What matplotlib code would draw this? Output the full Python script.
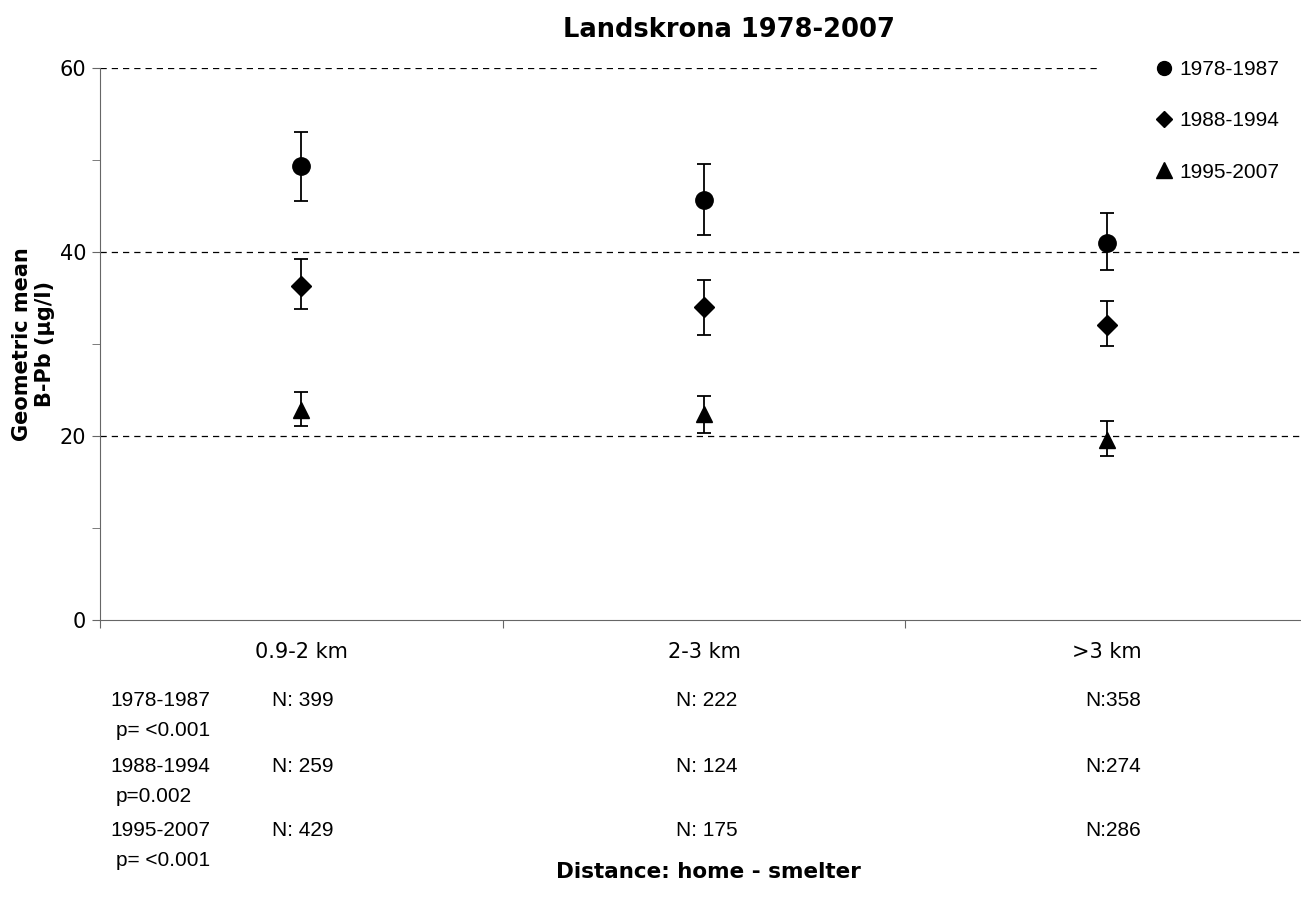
import matplotlib.pyplot as plt
from matplotlib.lines import Line2D
import numpy as np

# data
categories = ['0.9-2 km', '2-3 km', '>3 km']
periods = ['1978-1987', '1988-1994', '1995-2007']
p_values = ['p= <0.001', 'p=0.002', 'p= <0.001']
markers = ['o', 'D', '^']
marker_sizes = [12.5, 10, 12]

means = [
    [49.3, 45.6, 41.0],
    [36.3, 34.0, 32.1],
    [22.8, 22.4, 19.6],
]
upper = [
    [53.0, 49.6, 44.2],
    [39.2, 37.0, 34.7],
    [24.8, 24.4, 21.6],
]
lower = [
    [45.5, 41.8, 38.0],
    [33.8, 31.0, 29.8],
    [21.1, 20.3, 17.8],
]
n_values = [
    ['N: 399', 'N: 222', 'N:358'],
    ['N: 259', 'N: 124', 'N:274'],
    ['N: 429', 'N: 175', 'N:286'],
]

plt.rcParams['font.family'] = 'DejaVu Sans'

fig = plt.figure(figsize=(13.01, 9.09), dpi=100)
ax = fig.add_axes([100/1301, 1 - 620/909, 1208/1301, 552/909])

x = np.arange(len(categories)) + 0.5
for i in range(len(periods)):
    m = np.array(means[i])
    yerr = [m - np.array(lower[i]), np.array(upper[i]) - m]
    ax.errorbar(x, m, yerr=yerr, fmt=markers[i], color='black', ms=marker_sizes[i],
                ecolor='black', elinewidth=1.3, capsize=5, capthick=1.3, zorder=3)

ax.set_xlim(0, 3)
ax.set_ylim(0, 60)
ax.set_yticks([0, 20, 40, 60])
ax.set_yticks([10, 30, 50], minor=True)
ax.set_xticks([0, 1, 2, 3])
ax.set_xticks(x, minor=True)
ax.set_xticklabels([])
ax.set_xticklabels(categories, minor=True)
ax.tick_params(axis='x', which='minor', length=0, pad=16, labelsize=15)
ax.tick_params(axis='x', which='major', length=6, direction='out', color='#666666')
ax.tick_params(axis='y', which='both', length=6, direction='out', color='#666666',
               labelsize=15, pad=4)

for s in ['top', 'right']:
    ax.spines[s].set_visible(False)
ax.spines['left'].set_color('#666666')
ax.spines['bottom'].set_color('#666666')

# dashed gridlines; the top one stops short of the legend
grid_y = [20, 40, 60]
grid_end = [1.0, 1.0, 0.827]
for gy, ge in zip(grid_y, grid_end):
    ax.axhline(gy, xmax=ge, linestyle=(0, (5, 4)), color='black', linewidth=0.9, zorder=1)

fig.text(729/1301, 1 - 30/909, 'Landskrona 1978-2007', ha='center', va='center',
         fontsize=18.5, fontweight='bold')
ax.set_ylabel('Geometric mean\nB-Pb (µg/l)', fontsize=15, fontweight='bold')
ax.yaxis.set_label_coords(-45/1208, 0.5)

handles = [Line2D([], [], marker=markers[i], color='black', linestyle='none',
                  markersize=[10, 8.5, 11][i]) for i in range(len(periods))]
leg = fig.legend(handles, periods, loc='upper left', bbox_to_anchor=(1156/1301, 1 - 60/909),
                 frameon=False, prop={'family': 'Liberation Sans', 'size': 15}, handlelength=0.8,
                 handletextpad=0.3, labelspacing=1.55, borderpad=0, borderaxespad=0)

# table under the x axis
tfont = {'family': 'Liberation Sans', 'size': 15}
row_y = [700, 766, 830]
col_x = [272, 676, 1085]
for i in range(len(periods)):
    fig.text(110/1301, 1 - row_y[i]/909, periods[i], va='center', ha='left', **tfont)
    fig.text(116/1301, 1 - (row_y[i] + 30)/909, p_values[i], va='center', ha='left', **tfont)
    for j in range(len(categories)):
        fig.text(col_x[j]/1301, 1 - row_y[i]/909, n_values[i][j], va='center', ha='left', **tfont)

fig.text(708/1301, 1 - 872/909, 'Distance: home - smelter', ha='center', va='center',
         fontsize=15.5, fontweight='bold')

fig.savefig('out.png', dpi=100)
